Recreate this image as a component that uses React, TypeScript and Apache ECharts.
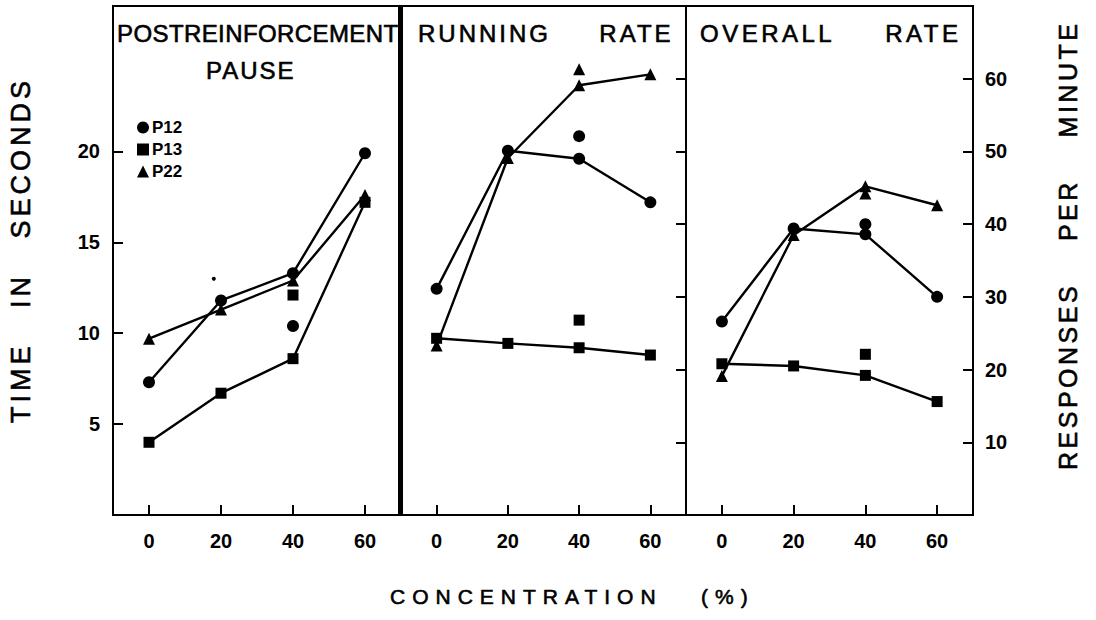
import React, { useEffect, useRef } from "react";
import * as echarts from "echarts";

// ---------- data ----------
const CONC = [0, 20, 40, 60];
const X_TICKS = [0, 20, 40, 60];
const SEC_TICKS = [5, 10, 15, 20];
const RATE_TICKS = [10, 20, 30, 40, 50, 60];

const PAUSE_P12 = [7.3, 11.8, 13.3, 19.9];
const PAUSE_P13 = [4.0, 6.7, 8.6, 17.2];
const PAUSE_P22 = [9.7, 11.3, 12.9, 17.6];
const PAUSE_P12_EXTRA = [[40, 10.4]];
const PAUSE_P13_EXTRA = [[40, 12.1]];
const PAUSE_SPECK = [[18, 13.0]];

const RUN_P12 = [31.1, 50.1, 49.0, 43.0];
const RUN_P13 = [24.3, 23.6, 23.0, 22.0];
const RUN_P22 = [23.3, 49.1, 59.1, 60.6];
const RUN_P12_EXTRA = [[40, 52.1]];
const RUN_P13_EXTRA = [[40, 26.8]];
const RUN_P22_EXTRA = [[40, 61.3]];

const ALL_P12 = [26.6, 39.4, 38.6, 30.0];
const ALL_P13 = [20.8, 20.5, 19.2, 15.6];
const ALL_P22 = [19.1, 38.5, 45.2, 42.6];
const ALL_P12_EXTRA = [[40, 40.0]];
const ALL_P13_EXTRA = [[40, 22.1]];
const ALL_P22_EXTRA = [[40, 44.2]];

const SUBJECTS = ["P12", "P13", "P22"];

const T_PAUSE1 = "POSTREINFORCEMENT";
const T_PAUSE2 = "PAUSE";
const T_RUN = "RUNNING     RATE";
const T_ALL = "OVERALL     RATE";
const T_X = "CONCENTRATION   (%)";
const T_YL = "TIME   IN   SECONDS";
const T_YR = "RESPONSES    PER    MINUTE";

// ---------- styling ----------
const FONT = '"Liberation Sans", Arial, Helvetica, sans-serif';
const BLACK = "#000";
const SYMBOL: Record<string, string> = { P12: "circle", P13: "rect", P22: "triangle" };
const SYMBOL_SIZE: Record<string, number> = { P12: 12, P13: 11, P22: 12 };

const SPACING: Record<string, number> = {
  [T_PAUSE1]: 0.4,
  [T_PAUSE2]: 2,
  [T_RUN]: 3,
  [T_ALL]: 3.5,
  [T_X]: 7,
  [T_YL]: 4,
  [T_YR]: 3.5,
};

const GRIDS = [
  { left: 113, top: 6, width: 288, height: 509 },
  { left: 401, top: 6, width: 285, height: 509 },
  { left: 686, top: 6, width: 287, height: 509 },
];

function lineSeries(name: string, vals: number[], gi: number) {
  return {
    type: "line",
    name,
    xAxisIndex: gi,
    yAxisIndex: gi,
    data: CONC.map((x, i) => [x, vals[i]]),
    symbol: SYMBOL[name],
    symbolSize: SYMBOL_SIZE[name],
    showSymbol: true,
    lineStyle: { color: BLACK, width: 2.4 },
    itemStyle: { color: BLACK, opacity: 1 },
    silent: true,
    z: 3,
  };
}

function extraSeries(name: string, pts: number[][], gi: number, size?: number) {
  return {
    type: "scatter",
    name,
    xAxisIndex: gi,
    yAxisIndex: gi,
    data: pts,
    symbol: SYMBOL[name],
    symbolSize: size ?? SYMBOL_SIZE[name],
    itemStyle: { color: BLACK, opacity: 1 },
    silent: true,
    z: 3,
  };
}

function xAxis(gi: number) {
  return {
    type: "value",
    gridIndex: gi,
    min: -10,
    max: 70,
    position: "bottom",
    axisLine: { show: true, onZero: false, lineStyle: { color: BLACK, width: 2 } },
    axisTick: {
      show: true,
      inside: true,
      length: 10,
      customValues: X_TICKS,
      lineStyle: { color: BLACK, width: 2 },
    },
    axisLabel: {
      show: true,
      customValues: X_TICKS,
      margin: 16,
      color: BLACK,
      fontSize: 20,
      fontWeight: "bold",
      fontFamily: FONT,
    },
    splitLine: { show: false },
  };
}

function yAxis(gi: number, max: number, ticks: number[], position: string, labels: boolean, margin: number) {
  return {
    type: "value",
    gridIndex: gi,
    min: 0,
    max,
    position,
    axisLine: { show: true, onZero: false, lineStyle: { color: BLACK, width: 2 } },
    axisTick: {
      show: true,
      inside: true,
      length: 10,
      customValues: ticks,
      lineStyle: { color: BLACK, width: 2 },
    },
    axisLabel: {
      show: labels,
      customValues: ticks,
      margin,
      color: BLACK,
      fontSize: 20,
      fontWeight: "bold",
      fontFamily: FONT,
    },
    splitLine: { show: false },
  };
}

function text(t: string, x: number, y: number, size: number, extra: any = {}) {
  return {
    type: "text",
    x,
    y,
    silent: true,
    ...extra,
    style: {
      text: t,
      fill: BLACK,
      stroke: BLACK,
      lineWidth: 0.6,
      fontSize: size,
      fontFamily: FONT,
      fontWeight: "normal",
      align: "left",
      textAlign: "left",
      verticalAlign: "middle",
      textVerticalAlign: "middle",
    },
  };
}

function applySpacing(root: HTMLElement) {
  root.querySelectorAll("text").forEach((el) => {
    const t = el.textContent || "";
    const s = SPACING[t];
    if (s != null) {
      (el as any).style.letterSpacing = s + "px";
      (el as any).style.whiteSpace = "pre";
    }
  });
}

export default function App() {
  const ref = useRef<HTMLDivElement>(null);

  useEffect(() => {
    document.body.style.margin = "0";
    if (!ref.current) return;
    const chart = echarts.init(ref.current, null, { renderer: "svg" });

    const option: any = {
      animation: false,
      backgroundColor: "#fff",
      grid: GRIDS.map((g) => ({
        ...g,
        show: true,
        borderColor: BLACK,
        borderWidth: 2,
        backgroundColor: "transparent",
        containLabel: false,
      })),
      xAxis: [xAxis(0), xAxis(1), xAxis(2)],
      yAxis: [
        yAxis(0, 28, SEC_TICKS, "left", true, 13),
        yAxis(1, 70, RATE_TICKS, "right", false, 12),
        yAxis(2, 70, RATE_TICKS, "right", true, 12),
      ],
      legend: {
        orient: "vertical",
        left: 137,
        top: 119,
        padding: 0,
        itemWidth: 12,
        itemHeight: 12,
        itemGap: 5,
        selectedMode: false,
        textStyle: { color: BLACK, fontSize: 17, fontWeight: "bold", fontFamily: FONT, padding: [0, 0, 0, -2] },
        data: SUBJECTS.map((s) => ({ name: s, icon: SYMBOL[s] })),
      },
      series: [
        lineSeries("P12", PAUSE_P12, 0),
        lineSeries("P13", PAUSE_P13, 0),
        lineSeries("P22", PAUSE_P22, 0),
        extraSeries("P12", PAUSE_P12_EXTRA, 0),
        extraSeries("P13", PAUSE_P13_EXTRA, 0),
        extraSeries("P12", PAUSE_SPECK, 0, 4),
        lineSeries("P12", RUN_P12, 1),
        lineSeries("P13", RUN_P13, 1),
        lineSeries("P22", RUN_P22, 1),
        extraSeries("P12", RUN_P12_EXTRA, 1),
        extraSeries("P13", RUN_P13_EXTRA, 1),
        extraSeries("P22", RUN_P22_EXTRA, 1),
        lineSeries("P12", ALL_P12, 2),
        lineSeries("P13", ALL_P13, 2),
        lineSeries("P22", ALL_P22, 2),
        extraSeries("P12", ALL_P12_EXTRA, 2),
        extraSeries("P13", ALL_P13_EXTRA, 2),
        extraSeries("P22", ALL_P22_EXTRA, 2),
      ],
      graphic: [
        { type: "rect", silent: true, shape: { x: 398, y: 6, width: 5, height: 509 }, style: { fill: BLACK }, z: 10 },
        text(T_PAUSE1, 117, 33, 24),
        text(T_PAUSE2, 206, 70, 24),
        text(T_RUN, 418, 33, 24),
        text(T_ALL, 700, 33, 24),
        text(T_X, 390, 596, 21),
        text(T_YL, 21, 423, 27, { rotation: Math.PI / 2 }),
        text(T_YR, 1068, 470, 25, { rotation: Math.PI / 2 }),
      ],
    };

    chart.setOption(option);
    applySpacing(ref.current);
    const raf = requestAnimationFrame(() => ref.current && applySpacing(ref.current));
    const to = setTimeout(() => ref.current && applySpacing(ref.current), 50);

    return () => {
      cancelAnimationFrame(raf);
      clearTimeout(to);
      chart.dispose();
    };
  }, []);

  return <div ref={ref} style={{ width: 1096, height: 620, whiteSpace: "pre" }} />;
}
